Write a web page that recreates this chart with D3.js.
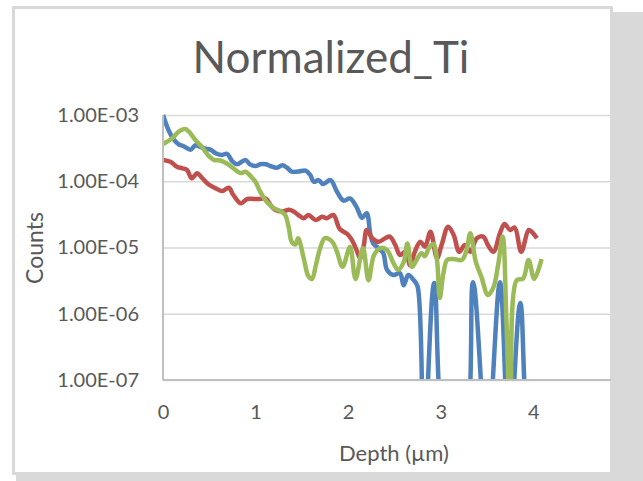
<!DOCTYPE html>
<html>
<head>
<meta charset="utf-8">
<script src="https://cdn.jsdelivr.net/npm/d3@7"></script>
<style>
body { margin: 0; background: #fff; }
text { font-family: Lato, "Open Sans", sans-serif; fill: #595959; }
</style>
</head>
<body>
<div id="chart"></div>
<script>
// depth in µm, counts normalized (0 = nothing measured)
var blueDepth  = [0.00,0.06,0.12,0.17,0.22,0.30,0.35,0.40,0.46,0.51,0.58,0.64,0.69,0.75,0.80,0.89,0.94,1.00,1.05,1.11,1.16,1.23,1.29,1.34,1.39,1.46,1.54,1.59,1.63,1.68,1.73,1.81,1.88,1.95,2.02,2.09,2.15,2.20,2.24,2.27,2.33,2.38,2.42,2.49,2.56,2.60,2.65,2.71,2.75,2.82,2.93,3.08,3.23,3.35,3.50,3.64,3.74,3.86,3.98,4.05];
var blueCounts = [1.0e-3,5.9e-4,4.2e-4,3.6e-4,3.4e-4,3.0e-4,3.5e-4,3.3e-4,3.1e-4,3.0e-4,2.6e-4,2.5e-4,2.6e-4,2.0e-4,1.8e-4,2.1e-4,1.8e-4,1.7e-4,1.8e-4,1.8e-4,1.7e-4,1.6e-4,1.75e-4,1.6e-4,1.4e-4,1.4e-4,1.45e-4,1.25e-4,9.8e-5,1.04e-4,9.1e-5,1.04e-4,6.95e-5,5.1e-5,5.5e-5,4.1e-5,2.8e-5,3.3e-5,1.6e-5,1.16e-5,9.7e-6,8.2e-6,4.6e-6,3.85e-6,4.1e-6,2.7e-6,3.85e-6,3.2e-6,2.6e-6,0,2.9e-6,0,0,3.0e-6,0,3.0e-6,0,1.45e-6,0,0];

var redDepth  = [0.00,0.08,0.15,0.21,0.26,0.31,0.37,0.42,0.49,0.57,0.64,0.71,0.76,0.84,0.91,0.98,1.05,1.11,1.16,1.21,1.29,1.36,1.41,1.46,1.52,1.57,1.65,1.72,1.77,1.84,1.91,1.99,2.04,2.09,2.13,2.17,2.20,2.26,2.33,2.40,2.45,2.51,2.56,2.62,2.67,2.72,2.78,2.83,2.89,2.96,3.01,3.08,3.14,3.20,3.26,3.32,3.39,3.46,3.51,3.57,3.64,3.69,3.75,3.80,3.87,3.95,3.98,4.04];
var redCounts = [2.1e-4,1.97e-4,1.66e-4,1.57e-4,1.48e-4,1.11e-4,1.32e-4,1.13e-4,9.0e-5,7.8e-5,7.1e-5,8.0e-5,6.2e-5,4.65e-5,5.4e-5,5.4e-5,5.4e-5,5.5e-5,4.4e-5,3.7e-5,3.5e-5,3.7e-5,3.5e-5,3.1e-5,2.76e-5,3.1e-5,2.6e-5,2.9e-5,2.76e-5,3.1e-5,1.9e-5,1.6e-5,1.3e-5,9.2e-6,6.9e-6,1.09e-5,1.84e-5,1.38e-5,1.22e-5,1.38e-5,1.46e-5,1.09e-5,7.7e-6,8.6e-6,5.4e-6,8.6e-6,1.22e-5,1.03e-5,1.73e-5,6.9e-6,1.09e-5,2.06e-5,1.55e-5,8.6e-6,1.09e-5,8.6e-6,1.38e-5,1.46e-5,1.09e-5,8.6e-6,1.64e-5,2.26e-5,1.84e-5,2.0e-5,8.6e-6,1.84e-5,1.75e-5,1.38e-5];

var greenDepth  = [0.00,0.10,0.17,0.24,0.28,0.35,0.42,0.49,0.55,0.62,0.69,0.76,0.84,0.89,0.96,1.00,1.05,1.12,1.20,1.27,1.32,1.36,1.39,1.43,1.46,1.52,1.57,1.61,1.65,1.70,1.75,1.83,1.88,1.94,2.02,2.08,2.16,2.22,2.28,2.35,2.42,2.49,2.54,2.60,2.64,2.69,2.74,2.79,2.83,2.87,2.92,2.96,2.99,3.03,3.07,3.14,3.23,3.28,3.32,3.38,3.44,3.51,3.57,3.62,3.67,3.71,3.76,3.82,3.89,3.95,4.01,4.09];
var greenCounts = [3.65e-4,4.45e-4,5.6e-4,6.15e-4,5.6e-4,4.2e-4,3.3e-4,2.45e-4,2.1e-4,2.06e-4,1.85e-4,1.57e-4,1.33e-4,1.39e-4,1.14e-4,9.75e-5,6.95e-5,4.9e-5,3.9e-5,3.55e-5,3.1e-5,1.95e-5,1.22e-5,1.11e-5,1.38e-5,6.9e-6,3.7e-6,3.35e-6,5.3e-6,1.0e-5,1.38e-5,1.21e-5,8.6e-6,5.1e-6,1.02e-5,3.35e-6,9.8e-6,3.2e-6,7.7e-6,9.8e-6,9.2e-6,5.8e-6,4.6e-6,6.0e-6,1.15e-5,5.1e-6,6.5e-6,8.2e-6,7.4e-6,9.7e-6,1.13e-5,6.5e-6,1.73e-6,4.1e-6,6.5e-6,6.7e-6,6.5e-6,9.2e-6,1.64e-5,6.0e-6,3.6e-6,1.92e-6,2.5e-6,5.4e-6,1.46e-5,8.0e-7,0,3.2e-6,3.4e-6,6.5e-6,3.35e-6,6.7e-6];

var xTicks = [0, 1, 2, 3, 4];
var yTicks = [1e-3, 1e-4, 1e-5, 1e-6, 1e-7];
var yTickLabels = ["1.00E-03", "1.00E-04", "1.00E-05", "1.00E-06", "1.00E-07"];

var width = 643, height = 481;
var plot = {left: 163, right: 611, top: 115, bottom: 380};

var svg = d3.select("#chart")
	.append("svg")
	.attr("width", width)
	.attr("height", height);

// frame + shadow
svg.append("rect")
	.attr("x", 16).attr("y", 12)
	.attr("width", width - 16).attr("height", height - 12)
	.attr("fill", "#d9d9d9");
svg.append("rect")
	.attr("x", 13.5).attr("y", 7.5)
	.attr("width", 598).attr("height", 466)
	.attr("fill", "#fff")
	.attr("stroke", "#d9d9d9")
	.attr("stroke-width", 3);

var xScale = d3.scaleLinear()
	.domain([0, 4.84])
	.range([plot.left, plot.right]);

var yScale = d3.scaleLog()
	.domain([1e-7, 1e-3])
	.range([plot.bottom, plot.top]);

// horizontal gridlines with labels
var yAxis = d3.axisLeft(yScale)
	.tickValues(yTicks)
	.tickFormat(function(d, i) { return yTickLabels[i]; })
	.tickSize(-(plot.right - plot.left))
	.tickPadding(24);

var gy = svg.append("g")
	.attr("transform", "translate(" + plot.left + ",0)")
	.call(yAxis);
gy.select(".domain").remove();
gy.selectAll("line").attr("stroke", "#d9d9d9").attr("stroke-width", 1.5);
gy.selectAll("text")
	.attr("font-size", 20)
	.attr("font-family", "Lato, 'Open Sans', sans-serif")
	.attr("fill", "#595959");

var xAxis = d3.axisBottom(xScale)
	.tickValues(xTicks)
	.tickFormat(d3.format("d"))
	.tickSize(0)
	.tickPadding(25);

var gx = svg.append("g")
	.attr("transform", "translate(0," + plot.bottom + ")")
	.call(xAxis);
gx.select(".domain").remove();
gx.selectAll("text")
	.attr("font-size", 20)
	.attr("font-family", "Lato, 'Open Sans', sans-serif")
	.attr("fill", "#595959");

svg.append("clipPath").attr("id", "clip")
	.append("rect")
	.attr("x", plot.left).attr("y", 0)
	.attr("width", plot.right - plot.left).attr("height", plot.bottom);

var line = d3.line()
	.curve(d3.curveCatmullRom)
	.x(function(d) { return xScale(d[0]); })
	.y(function(d) { return yScale(d[1] > 0 ? d[1] : 1e-8); });

var series = [
	{depth: blueDepth, counts: blueCounts, color: "#4f81bd"},
	{depth: redDepth, counts: redCounts, color: "#c0504d"},
	{depth: greenDepth, counts: greenCounts, color: "#9bbb59"}
];

var lines = svg.append("g").attr("clip-path", "url(#clip)");
series.forEach(function(s) {
	lines.append("path")
		.datum(d3.zip(s.depth, s.counts))
		.attr("d", line)
		.attr("fill", "none")
		.attr("stroke", s.color)
		.attr("stroke-width", 4.5)
		.attr("stroke-linejoin", "round");
});

// axis lines
svg.append("line")
	.attr("x1", plot.left).attr("x2", plot.right)
	.attr("y1", plot.bottom).attr("y2", plot.bottom)
	.attr("stroke", "#bfbfbf").attr("stroke-width", 2);
svg.append("line")
	.attr("x1", plot.left).attr("x2", plot.left)
	.attr("y1", plot.top).attr("y2", plot.bottom)
	.attr("stroke", "#bfbfbf").attr("stroke-width", 2);

svg.append("text")
	.attr("x", 331).attr("y", 73)
	.attr("text-anchor", "middle")
	.attr("font-size", 44)
	.text("Normalized_Ti");

svg.append("text")
	.attr("transform", "translate(43,248) rotate(-90)")
	.attr("text-anchor", "middle")
	.attr("font-size", 23)
	.text("Counts");

svg.append("text")
	.attr("x", 394).attr("y", 461)
	.attr("text-anchor", "middle")
	.attr("font-size", 22)
	.text("Depth (µm)");
</script>
</body>
</html>
